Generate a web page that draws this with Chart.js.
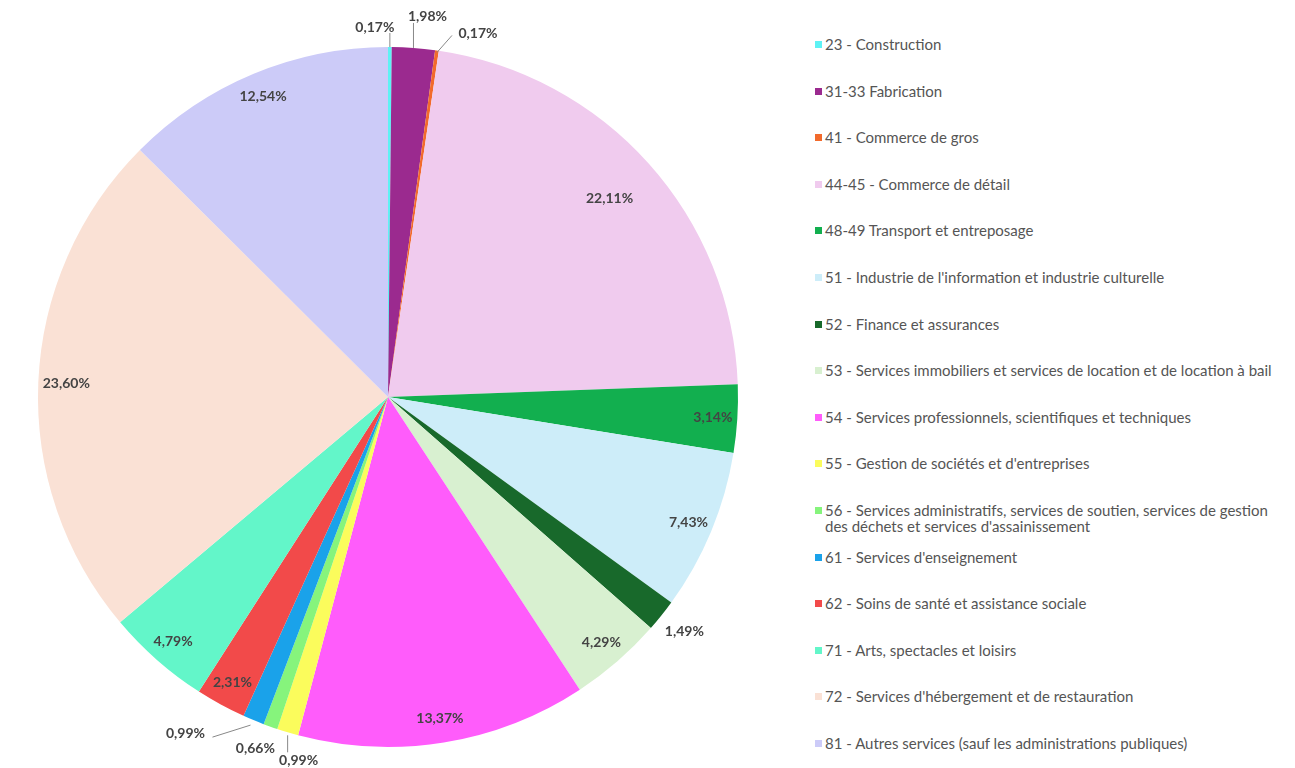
<!DOCTYPE html>
<html lang="fr">
<head>
  <meta charset="UTF-8">
  <title>Répartition par secteur</title>
  <script src="https://cdn.jsdelivr.net/npm/chart.js"></script>
  <style>
    body {
      margin: 0;
      background: #fff;
      font-family: Lato, "Open Sans", sans-serif;
    }
    .pie-box {
      position: absolute;
      left: 0;
      top: 0;
      width: 776px;
      height: 768px;
    }
    #legend {
      position: absolute;
      left: 815px;
      top: 36px;
      width: 475px;
      margin: 0;
      padding: 0;
      list-style: none;
    }
    #legend li {
      position: relative;
      height: 46.6px;
      padding-left: 10px;
      font-size: 15px;
      line-height: 16px;
      color: #555;
    }
    #legend li span {
      position: absolute;
      left: 0;
      top: 5px;
      width: 7px;
      height: 7px;
    }
  </style>
</head>
<body>

<div class="pie-box">
  <canvas id="pie"></canvas>
</div>
<ul id="legend"></ul>

<script>
  const categories = [
    "23 - Construction",
    "31-33 Fabrication",
    "41 - Commerce de gros",
    "44-45 - Commerce de détail",
    "48-49 Transport et entreposage",
    "51 - Industrie de l'information et industrie culturelle",
    "52 - Finance et assurances",
    "53 - Services immobiliers et services de location et de location à bail",
    "54 - Services professionnels, scientifiques et techniques",
    "55 - Gestion de sociétés et d'entreprises",
    "56 - Services administratifs, services de soutien, services de gestion des déchets et services d'assainissement",
    "61 - Services d'enseignement",
    "62 - Soins de santé et assistance sociale",
    "71 - Arts, spectacles et loisirs",
    "72 - Services d'hébergement et de restauration",
    "81 - Autres services (sauf les administrations publiques)"
  ];
  const shares = [0.17, 1.98, 0.17, 22.11, 3.14, 7.43, 1.49, 4.29, 13.37, 0.99, 0.66, 0.99, 2.31, 4.79, 23.60, 12.54];
  const colors = [
    "#5ef2f4", "#9b2a8f", "#f26a2c", "#f0cbee", "#12af4f", "#cdedf9", "#18692b", "#d8f0d0",
    "#ff5cfb", "#fbfc5c", "#86f47c", "#1aa2ea", "#f24a4a", "#63f6c9", "#fae1d5", "#cccbf8"
  ];

  // small slices get their label outside the pie (offset from the arc edge, in px)
  const outside = {
    0: { dx: -15, dy: -20, line: [[0, 0], [0, -14]] },
    1: { dx: 14, dy: -31, line: [[0, 0], [0, -25]] },
    2: { dx: 41, dy: -17, line: [[0, 2], [15, -15]] },
    6: { dx: 23, dy: 16, line: null },
    9: { dx: 11, dy: 28, line: [[0, 3], [0, 20]] },
    10: { dx: -15, dy: 22, line: null },
    11: { dx: -68, dy: 13, line: [[-3, 5], [-41, 17]] }
  };
  const insideRadius = { 3: 0.85, 14: 0.92 };

  const fmt = v => v.toFixed(2).replace(".", ",") + "%";

  const sliceLabels = {
    id: "sliceLabels",
    afterDatasetsDraw(chart) {
      const ctx = chart.ctx;
      const arcs = chart.getDatasetMeta(0).data;
      ctx.save();
      ctx.font = "bold 14px Lato, sans-serif";
      ctx.fillStyle = "#444";
      ctx.textAlign = "center";
      ctx.textBaseline = "middle";
      arcs.forEach((arc, i) => {
        const p = arc.getProps(["x", "y", "startAngle", "endAngle", "outerRadius"], true);
        const mid = (p.startAngle + p.endAngle) / 2;
        const text = fmt(shares[i]);
        if (outside[i]) {
          const ex = p.x + Math.cos(mid) * p.outerRadius;
          const ey = p.y + Math.sin(mid) * p.outerRadius;
          const o = outside[i];
          if (o.line) {
            ctx.strokeStyle = "#888";
            ctx.lineWidth = 1;
            ctx.beginPath();
            ctx.moveTo(ex + o.line[0][0], ey + o.line[0][1]);
            ctx.lineTo(ex + o.line[1][0], ey + o.line[1][1]);
            ctx.stroke();
          }
          ctx.fillText(text, ex + o.dx, ey + o.dy);
        } else {
          const r = p.outerRadius * (insideRadius[i] || 0.93);
          ctx.fillText(text, p.x + Math.cos(mid) * r, p.y + Math.sin(mid) * r);
        }
      });
      ctx.restore();
    }
  };

  const chart = new Chart(document.getElementById("pie"), {
    type: "pie",
    data: {
      labels: categories,
      datasets: [{
        data: shares,
        backgroundColor: colors,
        borderWidth: 0
      }]
    },
    options: {
      responsive: true,
      maintainAspectRatio: false,
      animation: false,
      layout: { padding: { top: 47, bottom: 21, left: 38, right: 38 } },
      plugins: {
        legend: { display: false },
        tooltip: { enabled: false }
      }
    },
    plugins: [sliceLabels]
  });

  // legend in html so long labels can wrap
  const legendEl = document.getElementById("legend");
  Chart.overrides.pie.plugins.legend.labels.generateLabels(chart).forEach(item => {
    const li = document.createElement("li");
    const box = document.createElement("span");
    box.style.background = item.fillStyle;
    li.appendChild(box);
    li.appendChild(document.createTextNode(item.text));
    legendEl.appendChild(li);
  });
</script>

</body>
</html>
